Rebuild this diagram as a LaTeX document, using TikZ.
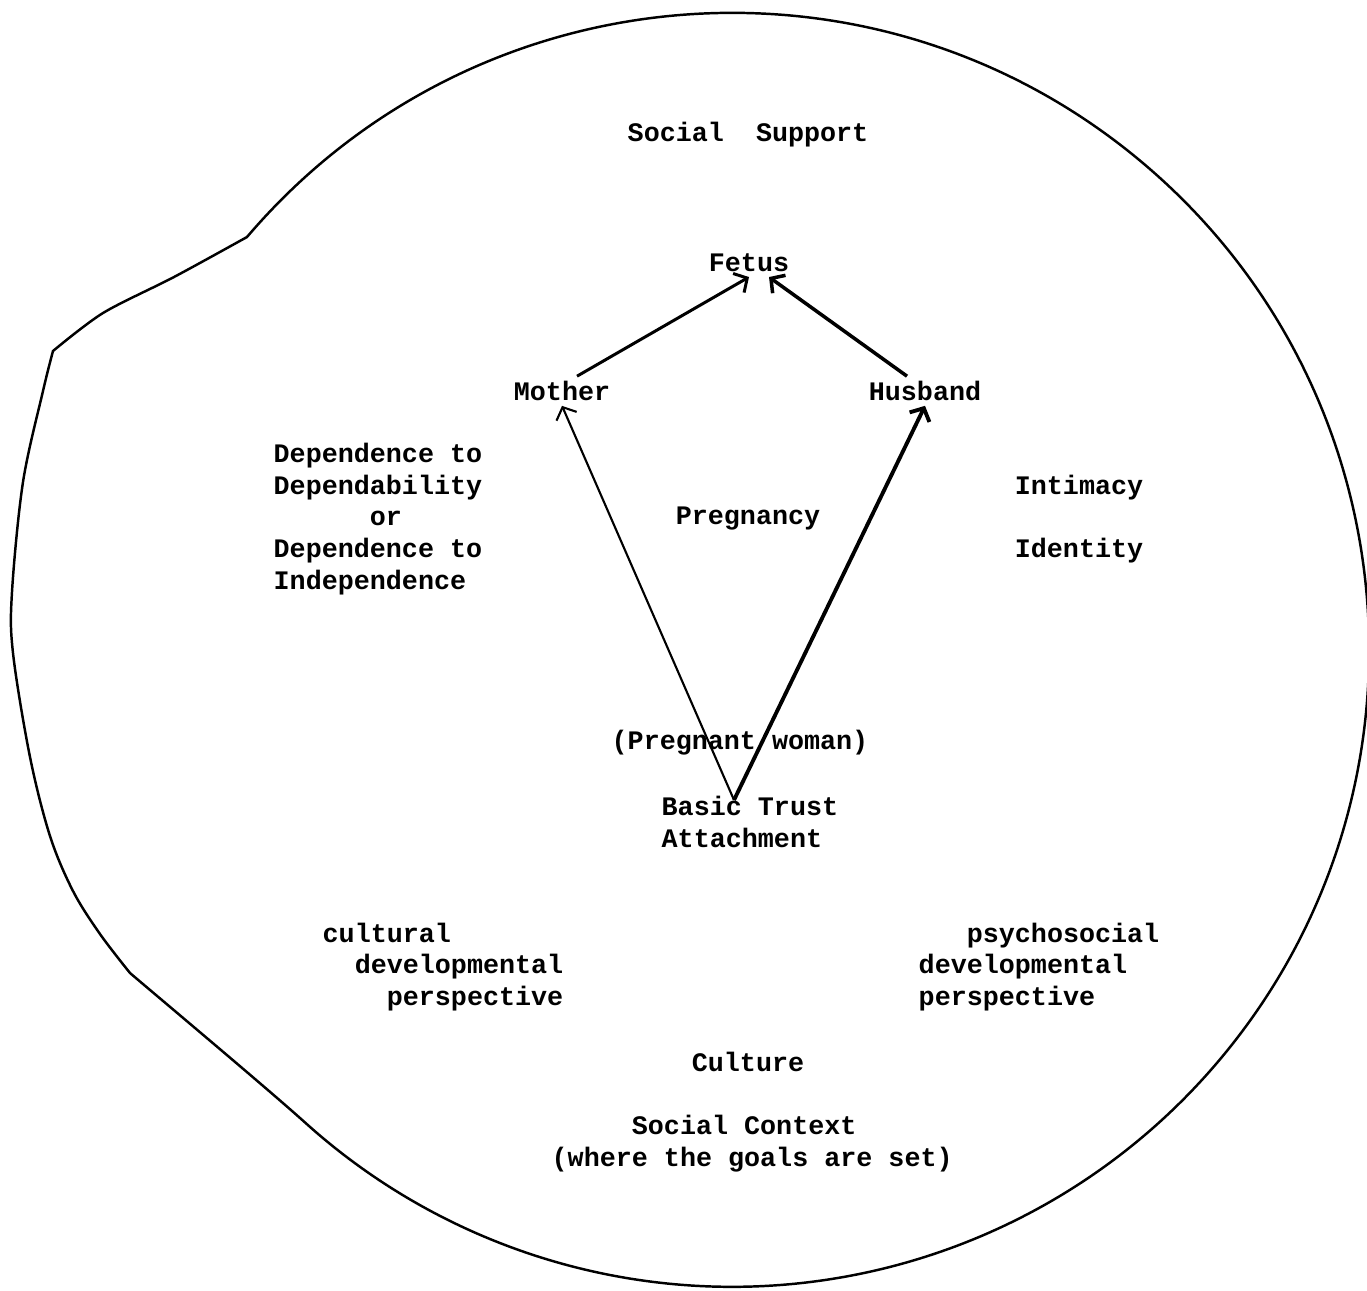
\documentclass[tikz,border=0pt]{standalone}
\usepackage{fontspec}
\setmonofont{Liberation Mono}
\usetikzlibrary{arrows.meta}

\begin{document}
\begin{tikzpicture}[x=0.01cm, y=-0.01cm,
  lbl/.style={font={\ttfamily\bfseries\fontsize{7.6}{9.05}\selectfont}, inner sep=0pt},
  who/.style={lbl, outer sep=0.05cm},
  link/.style={-{Straight Barb[length=0.1cm, width=0.22cm]}, line width=0.85pt}]
\clip (0,0) rectangle (1367,1290);

% outline of the social context
\draw[line width=0.7pt] plot[smooth, tension=0.5] coordinates {(53,351) (103,313) (174,277) (247,237)}
  arc[start angle=-139.6, end angle=132, radius=637]
  .. controls (269,1090) and (170,1007) .. (130,973)
  -- plot[smooth, tension=0.55] coordinates {(130,973) (100,934) (73,891) (50,836) (30,757) (13,653) (12,592) (23,482) (43,391) (53,351)} -- cycle;

\node[lbl] (support) at (748,135) {Social\ \ Support};
\node[who] (fetus) at (749,263) {Fetus};
\node[who] (mother) at (562,391) {Mother};
\node[who] (husband) at (925,391) {Husband};
\node[lbl, anchor=west, align=left] (depend) at (273,519) {Dependence to\\Dependability\\\hspace*{3.6em}or\\Dependence to\\Independence};
\node[lbl] (pregnancy) at (748,519) {Pregnancy};
\node[lbl] (intimacy) at (1079,488) {Intimacy};
\node[lbl] (identity) at (1079,551) {Identity};
\node[lbl] (woman) at (740,743) {(Pregnant woman)};
\node[lbl, anchor=west, align=left] (trust) at (661,822) {Basic Trust\\Attachment};
\node[lbl, anchor=west, align=left] (cultural) at (322,967) {cultural\\\hspace*{1.2em}developmental\\\hspace*{2.4em}perspective};
\node[lbl, anchor=west, align=left] (psycho) at (918,967) {\hspace*{1.8em}psychosocial\\developmental\\perspective};
\node[lbl] (culture) at (748,1062) {Culture};
\node[lbl, anchor=west, align=left] (context) at (551,1144) {\hspace*{3em}Social Context\\(where the goals are set)};

\coordinate (root) at (734,800);
\draw[link, line width=0.6pt] (root) -- (mother.south);
\draw[link, line width=1.1pt] (root) -- (husband.south);
\draw[link] ([xshift=0.15cm]mother.north) -- (fetus.south);
\draw[link, line width=1pt] ([xshift=-0.18cm]husband.north) -- ([xshift=0.2cm]fetus.south);
\end{tikzpicture}
\end{document}
